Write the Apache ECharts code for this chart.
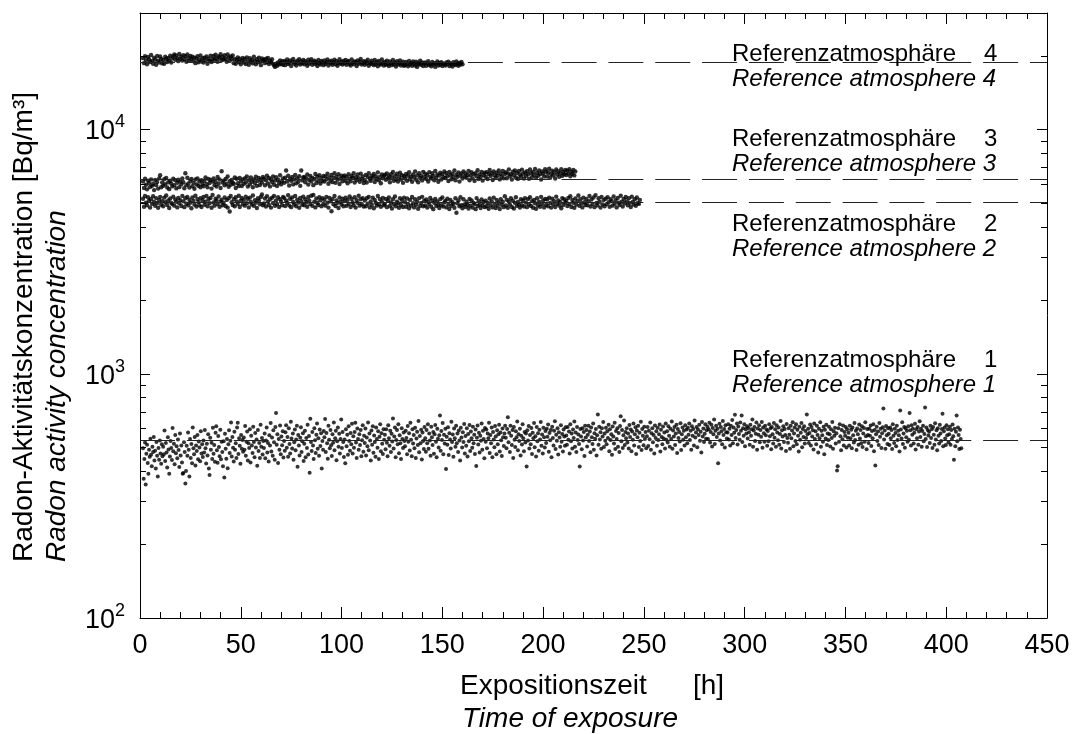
<!DOCTYPE html>
<html><head><meta charset="utf-8">
<script src="https://cdn.jsdelivr.net/npm/echarts@6/dist/echarts.min.js"></script>
<style>html,body{margin:0;padding:0;background:#fff}#c{width:1077px;height:734px}</style>
</head><body><div id="c"></div>
<script>
// ---- axis setup ----
const X_MIN = 0, X_MAX = 450, X_STEP = 50;
const Y_MIN = 100, Y_MAX = 30000;
const yMinorTicks = [200,300,400,500,600,700,800,900,2000,3000,4000,5000,6000,7000,8000,9000,20000];

// ---- reference levels (dashed lines) ----
const refLevels = [535, 5030, 6270, 18900];
const refNamesDe = ['Referenzatmosphäre', 'Referenzatmosphäre', 'Referenzatmosphäre', 'Referenzatmosphäre'];
const refNamesEn = ['Reference atmosphere 1', 'Reference atmosphere 2', 'Reference atmosphere 3', 'Reference atmosphere 4'];
const refNumbers = ['1', '2', '3', '4'];

// ---- measurement series: start time [h], sampling step [h], values [Bq/m³] ----
const atm1Start = 1.5, atm1Step = 1 / 3;
const atm1 = [
495,372,448,523,352,470,512,431,390,489,457,542,466,418,503,478,551,441,484,409,526,462,380,497,445,533,471,428,515,459,
502,468,586,439,521,476,413,549,490,390,458,531,497,444,600,482,517,426,562,473,505,451,538,487,415,570,463,509,433,390,
392,524,478,355,400,507,462,575,489,380,541,452,516,430,603,496,468,551,421,509,483,562,447,528,499,438,582,471,515,456,
533,476,588,495,429,517,463,565,409,385,547,489,522,448,601,470,511,436,573,610,486,432,556,501,459,590,447,527,478,418,
529,376,568,493,449,541,410,515,587,474,532,632,458,551,498,437,579,488,520,452,603,630,469,544,507,428,561,493,536,479,
548,489,611,462,527,580,441,519,497,593,433,558,508,474,607,526,455,572,499,538,420,589,483,521,452,619,503,546,467,531,
497,569,451,533,602,476,521,437,560,509,628,481,548,462,587,524,445,605,690,512,566,431,541,488,614,468,553,510,582,454,
531,484,576,615,498,551,457,598,516,472,636,543,494,569,445,524,591,486,538,613,416,562,509,463,547,604,478,529,571,439,
517,585,455,546,497,618,467,556,393,655,526,483,577,509,448,599,534,474,563,626,493,545,462,591,506,571,409,531,488,583,
549,653,478,572,519,449,612,537,495,589,510,461,566,522,631,486,544,584,443,529,603,503,568,471,541,650,497,578,525,456,
538,430,593,505,563,466,609,531,484,572,515,624,472,555,498,578,630,523,452,597,541,489,565,511,588,460,534,615,479,558,
521,597,463,548,505,631,486,569,533,441,586,512,609,475,559,525,457,602,540,498,581,448,552,622,482,571,517,469,593,537,
563,491,592,522,459,615,544,507,584,478,568,528,656,494,553,603,455,536,589,514,622,473,560,519,448,598,541,497,575,530,
505,584,546,468,611,527,571,485,630,537,459,593,518,562,496,601,452,543,579,511,641,477,556,520,590,446,575,531,492,606,
544,479,588,519,621,493,569,533,462,607,549,511,578,470,566,617,527,455,596,542,499,560,675,484,583,535,628,468,563,518,
595,407,552,512,604,465,571,538,494,636,526,564,457,597,545,503,612,519,570,478,586,533,441,601,548,499,576,525,623,471,
556,507,598,458,567,529,617,483,580,544,498,607,520,563,469,591,419,547,614,513,574,476,558,532,626,489,585,541,451,600,
527,591,495,570,544,630,474,561,519,603,455,578,538,500,611,553,468,587,514,565,619,481,575,534,461,597,549,506,569,612,
547,496,594,663,524,574,478,613,558,511,588,452,605,537,501,581,549,637,486,566,530,596,463,557,513,621,544,482,577,523,
570,417,587,533,611,494,561,515,600,469,573,545,628,500,555,458,605,529,571,484,590,538,634,507,564,472,601,550,499,583,
521,596,552,620,479,572,534,589,455,607,546,509,584,639,492,563,532,598,467,576,548,503,615,527,567,481,591,553,507,604,
559,512,606,537,580,472,621,529,569,494,591,546,638,502,575,478,605,536,564,516,417,594,553,491,599,533,577,461,613,548,
588,504,563,612,531,580,477,603,550,516,626,489,571,542,594,463,560,681,512,607,538,576,493,598,554,635,501,569,532,601,
514,581,546,619,482,593,535,565,466,608,553,518,630,492,583,541,598,503,572,478,611,670,529,589,497,560,643,511,578,545,
598,523,570,494,617,551,591,482,580,537,625,508,565,604,469,586,549,612,501,573,530,636,487,594,557,510,607,541,577,496,
555,605,506,584,539,632,489,571,598,524,562,471,614,546,582,507,601,535,566,620,481,590,551,515,608,543,575,494,625,537,
581,523,610,557,502,596,540,638,493,586,553,605,511,570,618,474,594,546,578,528,627,487,566,603,537,584,509,615,550,591,
520,601,563,626,535,585,489,610,557,594,508,643,548,575,606,500,591,561,618,532,579,476,635,554,597,526,568,621,542,587,
607,540,592,630,523,578,618,504,600,565,649,516,584,612,551,595,430,570,624,533,605,581,515,641,562,594,499,615,576,543,
575,621,538,596,509,613,562,647,520,602,574,680,546,589,626,513,608,567,537,631,585,675,526,599,558,622,505,593,570,610,
543,600,576,512,618,557,593,649,503,586,605,531,568,632,489,597,563,616,524,588,552,635,498,602,571,527,613,560,591,507,
583,529,621,555,598,491,606,566,518,629,547,592,503,615,575,534,603,512,567,640,494,587,553,609,525,594,562,483,623,546,
522,598,563,493,612,545,586,633,505,569,602,531,621,514,590,557,481,607,537,574,628,500,594,551,610,518,583,546,681,565,
596,521,572,620,508,605,553,587,490,626,541,581,514,612,562,476,595,545,633,503,584,560,527,607,468,590,543,618,511,569,
535,607,565,504,593,546,635,493,582,557,601,518,571,402,418,598,527,621,555,486,588,539,614,509,577,558,606,499,592,547,
574,508,612,545,590,495,603,560,523,628,536,584,487,597,566,512,620,543,588,519,609,501,570,600,527,633,555,491,594,561,
521,596,558,614,506,583,545,622,482,589,421,565,607,530,580,511,629,552,595,497,571,604,721,538,586,493,611,560,516,598,
568,511,603,544,588,492,621,557,521,596,572,505,612,536,585,560,481,708,591,543,633,516,569,606,498,598,550,584,527,610,
537,690,587,508,615,563,596,518,574,624,490,592,545,606,512,580,639,551,595,503,583,612,529,567,728,541,602,501,589,559,
579,521,613,546,592,497,605,563,512,627,538,587,486,598,557,518,619,569,530,594,686,505,582,603,543,511,616,560,592,524,
566,607,512,588,540,620,555,445,595,505,579,675,529,603,561,492,590,541,496
];

const atm2Start = 1.5, atm2Step = 0.5;
const atm2 = [
5210,4830,5340,5020,4900,5280,5110,4790,5180,4960,5330,5050,4870,5240,5000,4780,5150,5300,4920,5090,
4850,5260,5040,5370,4910,5130,4770,5220,5010,4950,5310,4880,5170,5060,4800,5250,4990,5140,4860,5350,
5080,4810,5230,4970,5300,4890,5160,5020,4760,5270,5100,4930,5360,4840,5190,5050,4900,5240,4820,5120,
5290,4920,5060,5350,4850,5180,4990,5250,4780,5400,5030,4880,5210,5120,4950,5320,4830,5070,5160,4900,
5000,5270,4860,5150,4790,5230,4620,5340,5040,4910,5190,4850,5280,5080,4960,5360,4820,5110,5250,4940,
5150,4880,5310,4990,5200,4800,5260,5050,4930,5370,4870,5140,5020,4770,5230,5110,4940,5290,5420,4900,
4980,5220,4840,5330,5070,4910,5180,4790,5260,5000,5350,4870,5130,4960,5280,4820,5190,5060,4900,5300,
5240,4860,5120,5010,5380,4890,5200,4810,5270,5050,4930,5340,4850,5160,5020,4780,5250,5090,4920,5310,
4900,5180,5040,4830,5290,5110,4950,5360,4870,5400,5060,4800,5220,5000,4910,5280,5130,4850,5240,4970,
5160,4880,5300,5020,4790,5250,5080,4630,5190,4940,5340,4860,5120,5010,4770,5270,5060,4930,5210,4850,
5090,5260,4870,5150,4960,5320,4820,5200,5030,4900,5280,4790,5140,5010,5360,4880,5180,4950,5240,4840,
5120,4850,5230,4970,5300,4800,5080,4920,5260,4760,5150,5010,4880,5340,4940,5190,4830,5070,5250,4900,
4960,5200,4810,5110,5270,4870,5030,4750,5180,4940,5320,4850,5060,4990,4780,5230,4910,5140,4820,5260,
5040,4830,5220,4950,4760,5150,4880,5290,4990,4800,5180,4920,5060,4740,5240,4870,5010,5300,4850,5110,
4890,5170,4790,5060,4950,5250,4830,5120,4720,5010,5200,4860,5080,4930,4770,5190,4900,5270,4840,5030,
5100,4800,5210,4930,4730,5150,4870,5040,4960,4780,5230,4560,4990,5120,4850,5280,4900,4760,5180,4940,
4830,5060,4920,4750,5200,4880,5130,4790,5010,4950,4720,5240,4860,5090,4930,4770,5170,4890,5050,4810,
5110,4850,5000,4740,5220,4900,5080,4800,5260,4960,4770,5150,4880,5030,4730,5190,4920,5060,4810,5330,
4890,5160,4780,5070,4940,5230,4820,5110,4750,5010,5280,4870,5050,4930,4790,5180,4900,5120,4840,5240,
5020,4810,5190,4930,5280,4860,5090,4780,5150,4990,4740,5230,4900,5060,4830,5300,4950,5120,4800,5200,
4920,5170,4850,5260,5010,4790,5210,4940,5090,4820,5310,4970,5130,4880,5050,4760,5240,4910,5180,5020,
5100,4860,5250,4950,5330,4820,5150,5010,4780,5220,4930,5090,5370,4870,5180,4990,4800,5260,5040,4910,
5200,4900,5080,5350,4840,5170,4960,5270,4810,5390,5000,4890,5230,5060,4790,5300,4940,5140,4850,5210,
4950,5280,5040,4830,5190,5090,4880,5320,4970,5140,4800,5250,5020,4910,5360,5060,4840,5200,4990,5290,
5080,4900,5230,5010,4820,5310,5050,4930,5180,4870,5270,5000,4960,5150
];

const atm3Start = 1.5, atm3Step = 0.5;
const atm3 = [
6130,5760,6290,5940,5690,6180,6040,5820,6250,5880,6000,5650,6220,5920,6100,5730,6310,6500,5800,6070,
5880,6260,5970,6340,5790,6080,5700,6170,6010,5850,6290,5920,6200,5740,6050,6230,5810,6120,5960,6310,
6090,5750,6620,5920,6350,6010,5790,6170,6280,5860,6060,5720,6240,5960,6310,5890,6130,5800,6200,5980,
5860,6170,6360,5970,5800,6280,6040,6220,5730,6130,6300,5920,6100,5840,6390,6000,6240,5760,6750,6070,
6180,5910,6270,6000,6420,5830,6150,5940,6210,6060,5980,6360,5760,6290,6030,5870,6330,6130,5870,6240,
5990,6300,6070,6430,5840,6200,5960,6370,6110,5800,6250,6040,6410,5880,6160,6330,5930,6230,6060,6390,
6290,5910,6200,6470,6010,6330,5850,6250,6100,6420,5940,6180,6380,5870,6230,6060,6500,5960,6140,6310,
6050,6350,6800,6130,6470,5900,6280,6170,6400,5960,6240,6510,6020,6310,6110,6440,5880,6800,6190,6360,
6390,6080,6300,6540,5950,6210,6460,6120,6340,5920,6270,6580,6040,6410,6180,6500,6010,6320,6150,6450,
6130,6430,6260,6590,6000,6370,6190,6520,6090,6330,6620,6050,6410,6230,6560,5980,6300,6470,6140,6380,
6480,6170,6400,6030,6560,6290,6140,6450,6350,6620,6070,6380,6210,6540,6320,6110,6600,6260,6430,6040,
6220,6510,6070,6400,6630,6290,6160,6470,6340,6580,6100,6440,6270,6680,6190,6390,6030,6550,6310,6460,
6530,6230,6610,6300,6420,6080,6560,6350,6700,6170,6460,6260,6590,6120,6390,6650,6240,6500,6050,6440,
6300,6580,6170,6470,6690,6260,6420,6110,6550,6360,6740,6230,6490,6080,6620,6330,6460,6190,6710,6380,
6590,6270,6510,6130,6690,6400,6300,6620,6460,6200,6760,6350,6540,6110,6480,6660,6240,6570,6380,6730,
6330,6620,6440,6150,6710,6500,6260,6590,6380,6800,6200,6530,6410,6680,6120,6470,6610,6300,6740,6420,
6610,6350,6520,6770,6200,6480,6690,6310,6560,6160,6630,6440,6810,6270,6540,6390,6700,6180,6500,6650,
6400,6690,6270,6580,6830,6450,6620,6210,6740,6500,6340,6660,6480,6800,6250,6590,6420,6760,6310,6570,
6690,6320,6610,6870,6440,6570,6240,6720,6500,6800,6370,6640,6280,6760,6530,6410,6850,6590,6300,6680,
6460,6750,6560,6290,6860,6630,6390,6710,6520,6900,6340,6650,6470,6800,6560,6240,6740,6610,6420,6880,
6720,6420,6650,6910,6350,6580,6790,6480,6690,6300,6860,6540,6730,6400,6620,6880,6460,6700,6560,6830,
6510,6790,6600,6880,6440,6700,6580,6830,6490,6740
];

const atm4Start = 1.5, atm4Step = 0.5;
const atm4 = [
19600,18700,19950,19200,18500,19800,19400,18900,20200,19100,18600,19700,19300,18400,20000,19150,18800,19900,19450,18650,
19250,18600,19850,19500,18900,19650,19100,20050,18800,19550,19900,20300,19300,20100,19600,19050,20400,19500,19850,19150,
20150,19400,19950,18950,20300,19600,19100,20000,19450,19850,19050,19700,18700,19500,19950,18850,19300,20100,19000,19600,
18800,19700,19200,19900,18600,19500,19150,20050,18900,19400,20000,19300,20250,19550,18950,19900,19650,20350,19200,19800,
19350,20150,19500,18950,20300,19700,19100,19900,19450,20100,18700,19400,18600,19250,19750,18900,19500,18500,19150,19650,
18800,19450,18550,19750,19050,18400,19600,18950,19300,18650,19850,19100,18500,19400,18850,19700,19000,18350,19550,19200,
19300,18700,19500,18900,19650,18550,19150,18850,19400,18600,18300,18050,18600,18250,18800,18450,19200,18550,19000,18400,
19100,18350,18900,19350,18550,18750,19200,18200,18950,19450,18600,18850,18300,19150,18700,19400,18450,19000,18650,19250,
18500,19050,18750,18250,19300,18600,18950,19400,18400,18800,19150,18550,18900,18200,19250,18700,18450,19100,18850,18350,
19200,18550,18850,19350,18300,18950,18650,19150,18400,18800,19300,18500,19050,18250,18750,19400,18600,18950,18450,19100,
18650,19250,18400,18900,19100,18550,18300,19350,18750,18500,19000,18850,18200,19200,18600,18950,19450,18450,18700,19050,
18400,19000,18650,19300,18250,18800,18550,19150,18700,18350,19250,18500,18900,18150,19100,18600,18450,19350,18750,18300,
18900,18400,19150,18550,18200,19000,18650,18350,19250,18500,18800,18100,19050,18450,18700,19200,18300,18600,18950,18250,
18350,18900,18550,18150,19100,18450,18750,18250,19000,18600,18300,18950,18050,18700,18500,19150,18400,18800,18200,18650,
18800,18250,18650,19050,18350,18550,18150,18900,18450,18700,18050,18600,19000,18300,18750,18400,18850,18200,18650,18500,
18300,18800,18500,18950,18200,18700,18450,18100,18850,18550,18350,19000,18600,18250,18750,18450,18900,18500
];

// ---- build series points (time, value) ----
function toPoints(start, step, vals) {
  return vals.map((v, i) => [start + i * step, v]);
}

const FONT = '"Liberation Sans", Arial, Helvetica, sans-serif';
const chart = echarts.init(document.getElementById('c'), null, {renderer: 'canvas'});

function scatterSeries(name, pts, size) {
  return {
    name, type: 'scatter', data: pts, symbol: 'circle', symbolSize: size,
    itemStyle: {color: '#000'}, silent: true, z: 3, animation: false,
    progressive: 0
  };
}

const yLabelFormatter = (v) => {
  const l = Math.log10(v);
  const e = Math.round(l);
  if (Math.abs(l - e) > 1e-6) return '';
  return '{b|10}{s|' + e + '}';
};

const axisLineStyle = {color: '#000', width: 1};

const option = {
  animation: false,
  backgroundColor: '#fff',
  textStyle: {fontFamily: FONT},
  grid: {left: 140, right: 30, top: 13, bottom: 116, containLabel: false},
  xAxis: [
    {
      type: 'value', min: X_MIN, max: X_MAX, interval: X_STEP, position: 'bottom',
      axisLine: {show: true, onZero: false, lineStyle: axisLineStyle},
      axisTick: {show: true, inside: true, length: 11, lineStyle: axisLineStyle},
      minorTick: {show: true, splitNumber: 5, length: 6, lineStyle: axisLineStyle},
      axisLabel: {fontSize: 27, color: '#000', margin: 14, fontFamily: FONT},
      splitLine: {show: false}
    },
    {
      type: 'value', min: X_MIN, max: X_MAX, interval: X_STEP, position: 'top',
      axisLine: {show: true, onZero: false, lineStyle: axisLineStyle},
      axisTick: {show: true, inside: true, length: 11, lineStyle: axisLineStyle},
      minorTick: {show: true, splitNumber: 5, length: 6, lineStyle: axisLineStyle},
      axisLabel: {show: false},
      splitLine: {show: false}
    }
  ],
  yAxis: [
    {
      type: 'log', logBase: 10, min: Y_MIN, max: Y_MAX, position: 'left',
      axisLine: {show: true, onZero: false, lineStyle: axisLineStyle},
      axisTick: {show: true, inside: true, length: 10, lineStyle: axisLineStyle},
      axisLabel: {
        color: '#000', margin: 15, formatter: yLabelFormatter, showMaxLabel: false,
        rich: {
          b: {fontSize: 27, fontFamily: FONT, color: '#000', lineHeight: 32, verticalAlign: 'bottom'},
          s: {fontSize: 18, fontFamily: FONT, color: '#000', lineHeight: 20, verticalAlign: 'top'}
        }
      },
      splitLine: {show: false}
    },
    {
      type: 'log', logBase: 10, min: Y_MIN, max: Y_MAX, position: 'right',
      axisLine: {show: true, onZero: false, lineStyle: axisLineStyle},
      axisTick: {show: true, inside: true, length: 10, lineStyle: axisLineStyle},
      axisLabel: {show: false},
      splitLine: {show: false}
    }
  ],
  series: [
    {
      name: 'refLines', type: 'line', data: [], silent: true, z: 2,
      markLine: {
        silent: true, symbol: ['none', 'none'], animation: false,
        label: {show: false},
        lineStyle: {color: '#222', width: 1, type: [35, 11.84]},
        data: refLevels.map(v => ({yAxis: v}))
      }
    },
    scatterSeries('atm1', toPoints(atm1Start, atm1Step, atm1), 4),
    scatterSeries('atm2', toPoints(atm2Start, atm2Step, atm2), 4.4),
    scatterSeries('atm3', toPoints(atm3Start, atm3Step, atm3), 4.4),
    scatterSeries('atm4', toPoints(atm4Start, atm4Step, atm4), 4.4),
    {
      name: 'yMinorTicks', type: 'custom', silent: true, z: 5,
      data: yMinorTicks.map(v => [X_MIN, v]),
      renderItem: (params, api) => {
        const v = api.value(1);
        const pL = api.coord([X_MIN, v]);
        const pR = api.coord([X_MAX, v]);
        const y = Math.round(pL[1]) + 0.5;
        return {
          type: 'group',
          children: [
            {type: 'line', shape: {x1: pL[0], y1: y, x2: pL[0] + 6, y2: y}, style: {stroke: '#000', lineWidth: 1}},
            {type: 'line', shape: {x1: pR[0] - 6, y1: y, x2: pR[0], y2: y}, style: {stroke: '#000', lineWidth: 1}}
          ]
        };
      }
    }
  ]
};

// ---- text annotations ----
const annoX = 732, numX = 984;
const annoBaselines = [[368, 393], [232, 257], [147, 172], [62, 87]];
const annoFont = 24;
const graphics = [];
function txt(x, y, text, size, italic, extra) {
  return Object.assign({
    type: 'text', x, y, silent: true, z: 10,
    style: {
      text, fill: '#000',
      font: (italic ? 'italic ' : '') + size + 'px ' + FONT,
      textAlign: 'left', textVerticalAlign: 'middle'
    }
  }, extra || {});
}
for (let k = 0; k < 4; k++) {
  const [b1, b2] = annoBaselines[k];
  const off = Math.round(annoFont * 0.34);
  graphics.push(txt(annoX, b1 - off, refNamesDe[k], annoFont, false));
  graphics.push(txt(numX, b1 - off, refNumbers[k], annoFont, false));
  graphics.push(txt(annoX, b2 - off, refNamesEn[k], annoFont, true));
}
// axis titles
const titleFont = 28;
graphics.push(txt(460, 695 - 9, 'Expositionszeit', titleFont, false));
graphics.push(txt(693, 695 - 9, '[h]', titleFont, false));
graphics.push(txt(462, 728 - 9, 'Time of exposure', titleFont, true));
graphics.push(txt(24, 562, 'Radon-Aktivitätskonzentration [Bq/m³]', titleFont, false, {rotation: Math.PI / 2}));
graphics.push(txt(57, 562, 'Radon activity concentration', titleFont, true, {rotation: Math.PI / 2}));
option.graphic = {elements: graphics};

chart.setOption(option);
</script>
</body></html>
